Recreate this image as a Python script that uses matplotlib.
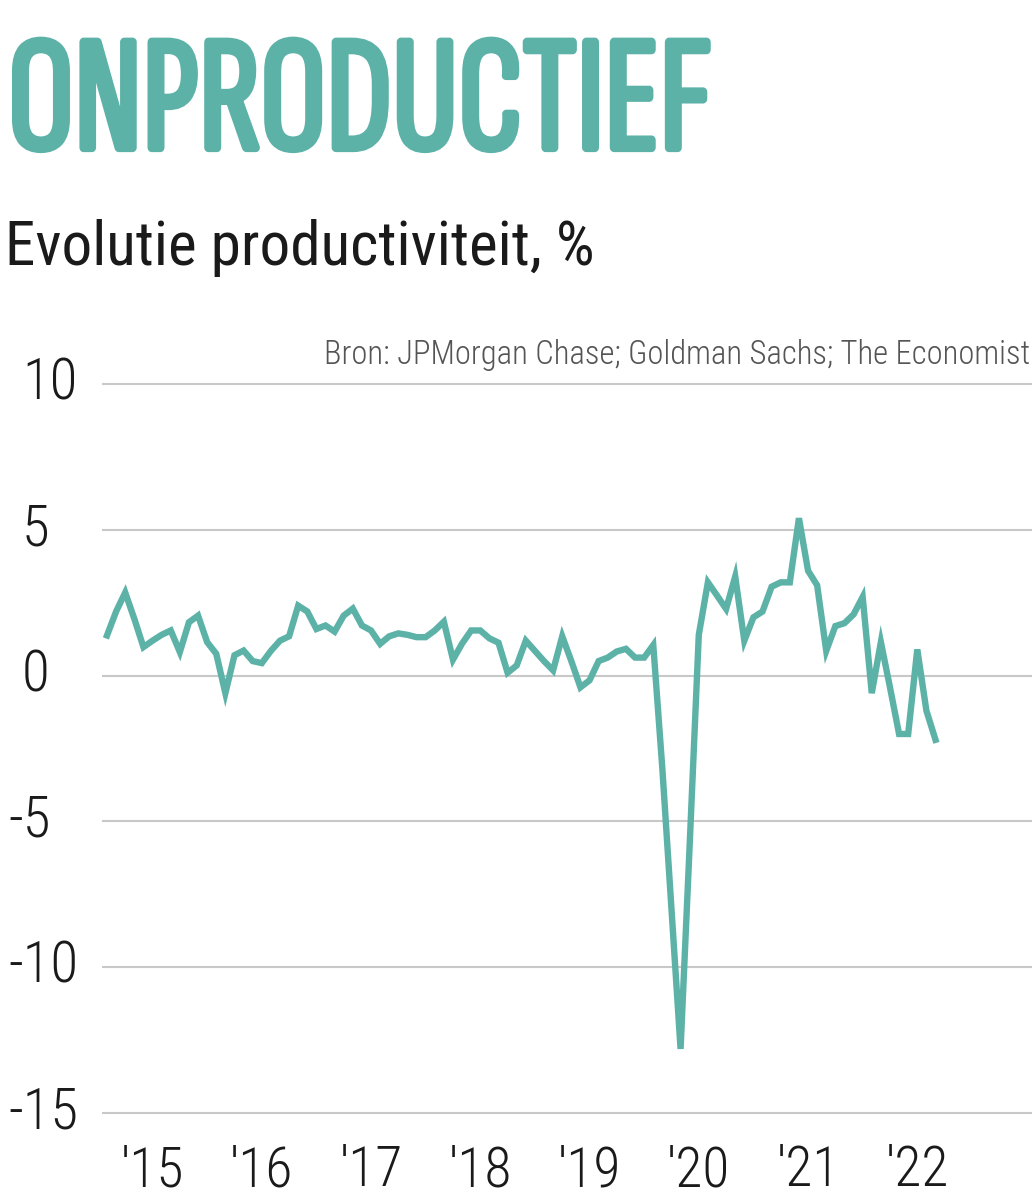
import numpy as np
import matplotlib
matplotlib.use("Agg")
import matplotlib.pyplot as plt
import matplotlib.patheffects as pe
from matplotlib.transforms import blended_transform_factory

# monthly productivity growth, first point = Feb 2015
values = [1.38, 2.2, 2.85, 1.95, 0.98, 1.2, 1.4, 1.55, 0.81, 1.83, 2.06, 1.15,
          0.75, -0.6, 0.7, 0.86, 0.5, 0.43, 0.85, 1.2, 1.35, 2.4, 2.2, 1.6,
          1.72, 1.51, 2.06, 2.3, 1.72, 1.55, 1.09, 1.35, 1.45, 1.40, 1.32, 1.32,
          1.55, 1.85, 0.55, 1.1, 1.55, 1.55, 1.28, 1.13, 0.1, 0.35, 1.2, 0.85,
          0.5, 0.18, 1.35, 0.5, -0.4, -0.16, 0.5, 0.62, 0.83, 0.92, 0.62, 0.62,
          1.05, -3.2, -8.0, -12.8, -5.8, 1.4, 3.2, 2.75, 2.29, 3.4, 1.2, 2.0,
          2.2, 3.05, 3.2, 3.2, 5.4, 3.6, 3.1, 0.85, 1.7, 1.8, 2.1, 2.7,
          -0.6, 1.15, -0.4, -2.0, -2.0, 0.9, -1.2, -2.2]
years = [2015, 2016, 2017, 2018, 2019, 2020, 2021, 2022]
year_labels = ["'15", "'16", "'17", "'18", "'19", "'20", "'21", "'22"]
y_ticks = [10, 5, 0, -5, -10, -15]

TEAL = '#5db2a8'
TEXT = ['Roboto Condensed', 'DejaVu Sans']
TITLE = ['Sofia Sans Extra Condensed', 'Roboto Condensed', 'DejaVu Sans']

plt.rcParams['font.family'] = TEXT

fig = plt.figure(figsize=(10.32, 12), dpi=100)
ax = fig.add_axes([102 / 1032, 0.0603, 1 - 102 / 1032, 0.6318])

x = np.arange(len(values))
ax.plot(x, values, color=TEAL, lw=4.6, solid_joinstyle='miter', zorder=3)

ax.set_xlim(-0.55, 101.6)
ax.set_ylim(-15.5, 10.5)
ax.set_yticks(y_ticks)
ax.yaxis.grid(True, color='#c8c8c8', lw=1.5)
ax.tick_params(axis='y', length=0, labelleft=False)
for s in ax.spines.values():
    s.set_visible(False)

# year labels sit at July of each year
xt = [(y - 2015) * 12 + 5 for y in years]
ax.set_xticks(xt)
ax.set_xticklabels(year_labels, fontsize=40, fontweight='light', color='#1a1a1a')
ax.tick_params(axis='x', length=0, pad=12)

tr = blended_transform_factory(fig.transFigure, ax.transData)
for v in y_ticks:
    xpos = 22 if v >= 0 else 8
    ax.text(xpos / 1032, v, str(v), transform=tr, ha='left', va='center',
            fontsize=41, fontweight='light', color='#1a1a1a')

# thin condensed face, thickened with a stroke to look bold
fig.text(8 / 1032, 1 - 149 / 1200, 'ONPRODUCTIEF', family=TITLE, fontsize=119,
         color=TEAL, ha='left', va='baseline',
         path_effects=[pe.withStroke(linewidth=4.5, foreground=TEAL)])
fig.text(5 / 1032, 1 - 265 / 1200, 'Evolutie productiviteit, %', fontsize=44,
         color='#1a1a1a', ha='left', va='baseline')
fig.text(1030 / 1032, 1 - 364 / 1200,
         'Bron: JPMorgan Chase; Goldman Sachs; The Economist',
         fontsize=23.5, fontweight='light', color='#555555', ha='right',
         va='baseline')

fig.savefig('out.png', dpi=100)
